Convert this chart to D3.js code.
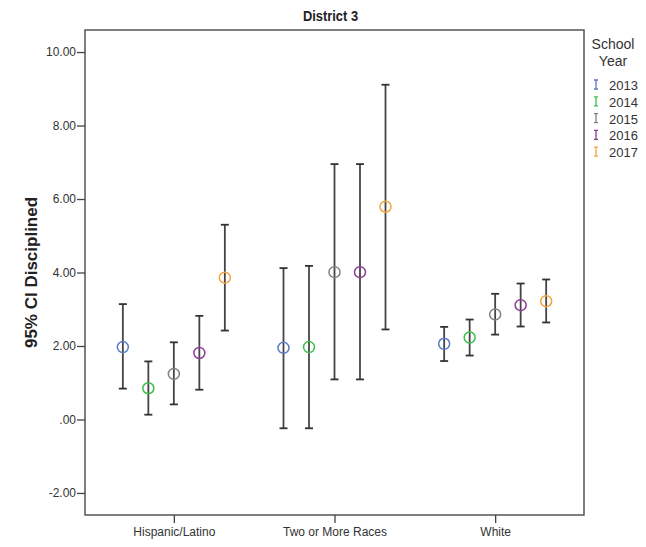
<!DOCTYPE html>
<html>
<head>
<meta charset="utf-8">
<script src="https://cdn.jsdelivr.net/npm/d3@7"></script>
<style>
  body { margin: 0; background: #fff; }
  text { font-family: "Liberation Sans", Arial, sans-serif; fill: #333; }
</style>
</head>
<body>
<div id="chart"></div>
<script>
// data
var groups = ["Hispanic/Latino", "Two or More Races", "White"];
var years = ["2013", "2014", "2015", "2016", "2017"];
var yearColours = ["#5a78c8", "#3cbf4a", "#808080", "#8e3c96", "#f5a33a"];

// mean, lower and upper bound of the 95% CI, one row per group, one entry per year
var means = [
  [1.97, 0.85, 1.24, 1.81, 3.86],
  [1.95, 1.97, 4.01, 4.01, 5.79],
  [2.06, 2.23, 2.86, 3.11, 3.22]
];
var lower = [
  [0.84, 0.13, 0.41, 0.81, 2.42],
  [-0.24, -0.24, 1.09, 1.09, 2.45],
  [1.59, 1.74, 2.31, 2.53, 2.64]
];
var upper = [
  [3.14, 1.58, 2.10, 2.82, 5.30],
  [4.12, 4.18, 6.95, 6.95, 9.11],
  [2.52, 2.72, 3.42, 3.70, 3.81]
];
var yTicks = [-2, 0, 2, 4, 6, 8, 10];

var margin = {top: 30, right: 62, bottom: 32, left: 85},
    width = 646 - margin.left - margin.right,
    height = 547 - margin.top - margin.bottom;

var rows = [];
groups.forEach(function(g, i) {
  years.forEach(function(yr, j) {
    rows.push({group: g, year: yr, colour: yearColours[j],
               mean: means[i][j], lo: lower[i][j], hi: upper[i][j]});
  });
});

var x = d3.scalePoint().domain(groups).range([0, width]).padding(0.553);
var xInner = d3.scalePoint().domain(years).range([-51, 51]);
var y = d3.scaleLinear().domain([-2.6, 10.6]).range([height, 0]);

// SPSS style labels: ".00" for zero and a plain hyphen for negatives
var fmt = d3.formatLocale({decimal: ".", thousands: ",", grouping: [3], currency: ["", ""], minus: "-"}).format(".2f");
function tickLabel(d) { return d === 0 ? ".00" : fmt(d); }

var svg = d3.select("#chart").append("svg")
    .attr("width", 646)
    .attr("height", 547);

var g = svg.append("g")
    .attr("transform", "translate(" + margin.left + "," + margin.top + ")");

// frame
g.append("rect")
    .attr("x", 0).attr("y", 0)
    .attr("width", width).attr("height", height)
    .style("fill", "none")
    .style("stroke", "#555")
    .style("stroke-width", 1.5);

// y axis
var yAxis = g.append("g")
    .call(d3.axisLeft(y).tickValues(yTicks).tickSize(8).tickFormat(tickLabel));
yAxis.select(".domain").remove();
yAxis.selectAll(".tick line").style("stroke", "#444").style("stroke-width", 1.3);
yAxis.selectAll(".tick text")
    .style("font-size", "12px").style("font-family", "'Liberation Sans', Arial, sans-serif")
    .attr("x", -9).style("fill", "#333");

// x axis
var xAxis = g.append("g")
    .attr("transform", "translate(0," + height + ")")
    .call(d3.axisBottom(x).tickSize(8));
xAxis.select(".domain").remove();
xAxis.selectAll(".tick line").style("stroke", "#444").style("stroke-width", 1.3);
xAxis.selectAll(".tick text")
    .style("font-size", "12px").style("font-family", "'Liberation Sans', Arial, sans-serif")
    .attr("y", 12).style("fill", "#333");

// error bars
var bars = g.selectAll(".bar")
    .data(rows)
  .enter().append("g")
    .attr("transform", function(d) { return "translate(" + (x(d.group) + xInner(d.year)) + ",0)"; });

bars.append("line")
    .attr("x1", 0).attr("x2", 0)
    .attr("y1", function(d) { return y(d.lo); })
    .attr("y2", function(d) { return y(d.hi); })
    .style("stroke", "#444").style("stroke-width", 1.8);

bars.selectAll(".cap")
    .data(function(d) { return [d.lo, d.hi]; })
  .enter().append("line")
    .attr("x1", -4).attr("x2", 4)
    .attr("y1", function(v) { return y(v); })
    .attr("y2", function(v) { return y(v); })
    .style("stroke", "#333").style("stroke-width", 1.8);

bars.append("circle")
    .attr("cy", function(d) { return y(d.mean); })
    .attr("r", 5.5)
    .style("fill", "none")
    .style("stroke", function(d) { return d.colour; })
    .style("stroke-width", 1.5);

// title (narrow bold, squeezed horizontally)
svg.append("text")
    .attr("transform", "translate(" + (margin.left + width / 2 - 4) + ",21) scale(0.86,1)")
    .attr("text-anchor", "middle")
    .style("font-weight", "bold")
    .style("font-size", "15px")
    .style("fill", "#222")
    .text("District 3");

// y axis title
svg.append("text")
    .attr("transform", "translate(37," + (margin.top + y(4)) + ") rotate(-90)")
    .attr("text-anchor", "middle")
    .style("font-weight", "bold")
    .style("font-size", "17px")
    .style("fill", "#222")
    .text("95% CI Disciplined");

// legend
var legend = svg.append("g").attr("transform", "translate(613,0)");
legend.append("text").attr("x", 0).attr("y", 49).attr("text-anchor", "middle")
    .style("font-size", "14px").text("School");
legend.append("text").attr("x", 0).attr("y", 66).attr("text-anchor", "middle")
    .style("font-size", "14px").text("Year");

var item = legend.selectAll(".item")
    .data(years)
  .enter().append("g")
    .attr("transform", function(d, i) { return "translate(0," + (85 + i * 16.8) + ")"; });

item.append("path")
    .attr("d", "M-19,-5H-15M-17,-5V4M-19,4H-15")
    .style("fill", "none")
    .style("stroke", function(d, i) { return yearColours[i]; })
    .style("stroke-width", 1.3);

item.append("text")
    .attr("x", -4).attr("y", 5)
    .style("font-size", "13px")
    .text(function(d) { return d; });
</script>
</body>
</html>
